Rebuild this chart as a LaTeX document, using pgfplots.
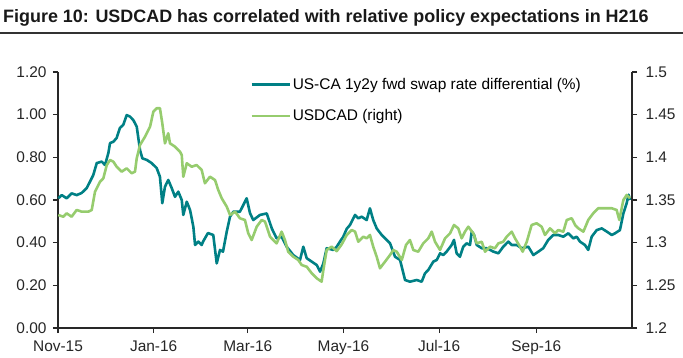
\documentclass[border=0pt]{standalone}
\usepackage{pgfplots}
\pgfplotsset{compat=1.18}
\usepackage{pgfplotstable}
\usepackage{fontspec}
\setmainfont{Liberation Sans}
\definecolor{tealc}{RGB}{0,128,133}
\definecolor{greenc}{RGB}{150,204,110}
\definecolor{axc}{RGB}{40,40,40}

\pgfplotstableread{
d v
0.2 0.608
2.4 0.623
5.5 0.608
8.7 0.631
11.9 0.623
15.1 0.633
18.3 0.656
20.4 0.686
22.5 0.717
24.7 0.773
27.9 0.780
30.0 0.764
32.1 0.820
33.2 0.867
35.3 0.873
37.4 0.891
39.5 0.938
41.6 0.952
43.8 0.998
45.9 0.991
48.0 0.975
50.2 0.944
52.3 0.834
53.8 0.795
56.6 0.788
59.7 0.773
62.9 0.750
65.0 0.709
66.5 0.585
68.2 0.662
70.3 0.694
72.5 0.656
74.6 0.615
76.7 0.639
78.9 0.600
79.9 0.530
82.1 0.592
84.2 0.553
86.3 0.475
87.4 0.389
89.5 0.405
91.6 0.389
92.5 0.405
95.6 0.445
99.0 0.436
101.2 0.303
103.3 0.366
105.2 0.358
107.6 0.452
109.7 0.522
111.8 0.545
116.0 0.545
120.3 0.608
122.4 0.539
124.5 0.506
128.8 0.530
133.1 0.537
136.3 0.467
139.4 0.420
142.6 0.428
145.8 0.381
150.0 0.342
154.3 0.319
156.4 0.381
158.6 0.327
161.8 0.311
165.0 0.295
167.1 0.264
169.2 0.303
171.3 0.374
175.5 0.366
177.7 0.381
179.8 0.405
181.9 0.428
184.1 0.465
186.2 0.483
189.4 0.530
191.5 0.514
193.6 0.522
196.8 0.506
198.9 0.561
201.0 0.506
203.2 0.467
206.4 0.436
209.6 0.413
211.7 0.397
214.9 0.334
218.1 0.319
221.3 0.225
224.4 0.217
228.7 0.225
231.9 0.217
234.0 0.256
236.1 0.272
239.3 0.311
241.5 0.319
243.6 0.350
245.7 0.342
247.8 0.358
251.0 0.389
252.5 0.413
254.2 0.350
256.3 0.334
258.4 0.381
260.6 0.397
262.7 0.389
263.8 0.452
265.3 0.436
267.0 0.389
270.2 0.374
273.4 0.374
275.5 0.366
277.6 0.358
280.8 0.350
283.9 0.381
287.1 0.405
289.3 0.389
292.5 0.389
295.7 0.374
299.9 0.381
303.1 0.342
306.3 0.358
309.4 0.374
312.6 0.413
315.8 0.436
319.0 0.436
322.2 0.428
325.4 0.444
328.6 0.420
330.7 0.428
332.8 0.405
336.0 0.389
338.1 0.366
340.3 0.428
343.5 0.459
346.7 0.467
349.9 0.452
353.1 0.436
355.2 0.444
358.3 0.459
360.5 0.537
362.6 0.585
363.8 0.625
364.7 0.600
}\spread

\pgfplotstableread{
d v
0.2 1.3324
3.4 1.3304
5.5 1.3344
8.7 1.3304
11.9 1.3383
15.1 1.3363
19.3 1.3363
21.5 1.3383
23.6 1.3597
26.8 1.3714
28.9 1.3754
31.1 1.3910
33.2 1.3969
35.3 1.3949
37.4 1.3890
40.6 1.3832
43.8 1.3871
47.0 1.3813
49.1 1.3832
50.2 1.3989
52.3 1.4145
55.5 1.4242
58.7 1.4359
60.8 1.4535
62.9 1.4575
65.0 1.4575
66.5 1.4399
68.2 1.4164
70.3 1.4282
71.4 1.4164
74.6 1.4125
77.8 1.4066
78.9 1.4027
79.9 1.3773
82.1 1.3930
85.3 1.3890
88.4 1.3910
91.6 1.3852
93.7 1.3696
96.9 1.3773
100.1 1.3734
102.2 1.3617
104.4 1.3520
107.6 1.3422
109.7 1.3324
112.9 1.3363
116.0 1.3286
119.2 1.3266
121.3 1.3110
123.5 1.3031
126.7 1.3187
129.9 1.3266
132.0 1.3246
135.2 1.3070
139.4 1.2992
142.6 1.3129
144.7 1.3031
146.8 1.2894
150.0 1.2836
153.2 1.2797
155.4 1.2738
158.6 1.2718
161.8 1.2641
165.0 1.2582
168.1 1.2543
169.2 1.2680
171.3 1.2914
174.5 1.2953
177.7 1.2900
180.9 1.2980
184.1 1.3090
187.3 1.3148
189.4 1.3129
191.5 1.3011
194.7 1.3070
196.8 1.3051
198.9 1.3090
201.0 1.2953
203.2 1.2836
205.3 1.2700
208.5 1.2777
211.7 1.2855
213.8 1.2914
216.0 1.2894
219.2 1.2797
221.9 1.2973
224.4 1.3031
226.6 1.2914
229.7 1.2894
232.9 1.2992
236.1 1.3051
238.3 1.3129
240.4 1.3011
243.6 1.2914
246.8 1.3051
250.0 1.3110
252.5 1.3207
255.2 1.3168
257.4 1.3051
259.5 1.3129
261.6 1.3187
264.8 1.3110
267.0 1.2992
270.2 1.3011
272.3 1.2894
275.5 1.2953
278.6 1.2934
280.8 1.2992
283.9 1.3011
286.1 1.3070
289.3 1.3129
291.4 1.3051
294.6 1.2953
296.3 1.2894
298.9 1.3011
302.0 1.3207
305.2 1.3227
308.4 1.3187
310.5 1.3090
313.7 1.3168
316.9 1.3110
319.0 1.3148
322.2 1.3129
324.4 1.3266
327.6 1.3286
329.7 1.3207
331.8 1.3168
335.0 1.3129
338.1 1.3266
341.3 1.3344
344.5 1.3403
348.8 1.3403
353.1 1.3403
356.2 1.3383
357.9 1.3266
360.5 1.3500
362.6 1.3559
364.7 1.3520
}\usdcad

\pgfplotsset{
  common/.style={
    scale only axis,
    width=574bp, height=256bp,
    at={(58bp,30bp)}, anchor=south west,
    xmin=0, xmax=366,
    tick align=outside,
    major tick length=5bp,
    every tick/.style={axc, line width=1.2bp},
    axis line style={axc, line width=1.5bp},
    tick label style={font=\fontsize{15.5}{18}\selectfont, text=black!85},
    xticklabel style={yshift=-4bp},
    /pgf/number format/assume math mode=true,
    clip=false,
  },
}

\begin{document}
\begin{tikzpicture}
\path[use as bounding box] (0,0) rectangle (683bp,358bp);
\node[anchor=base west, inner sep=0pt, font=\fontsize{18}{21}\selectfont\bfseries, text=black!90] at (3bp,335bp)
  {Figure 10: USDCAD has correlated with relative policy expectations in H216};
\draw[line width=1.2bp, black!80] (0,325bp) -- (683bp,325bp);

\begin{axis}[common,
  axis x line*=bottom, axis y line*=left,
  ymin=0, ymax=1.2,
  ytick={0,0.2,0.4,0.6,0.8,1.0,1.2},
  yticklabel style={xshift=-3bp, /pgf/number format/.cd, fixed, fixed zerofill, precision=2},
  xtick={0,61,121,182,243,305},
  xticklabels={Nov-15,Jan-16,Mar-16,May-16,Jul-16,Sep-16},
  legend style={at={(rel axis cs:0.3345,0.985)}, anchor=north west, draw=none, fill=none,
    font=\fontsize{15.5}{18}\selectfont, row sep=15bp, inner sep=0pt,
    /tikz/every even column/.style={column sep=1bp}},
  legend cell align=left,
  legend image code/.code={\draw[#1] (0bp,0bp) -- (38bp,0bp);},
]
\addplot[tealc, line width=2.6bp, line join=round] table[x=d, y=v] {\spread};
\addlegendentry{US-CA 1y2y fwd swap rate differential (\%)}
\addlegendimage{greenc, line width=2.6bp}
\addlegendentry{USDCAD (right)}
\end{axis}

\begin{axis}[common,
  axis x line=none, axis y line*=right,
  ymin=1.2, ymax=1.5,
  ytick={1.2,1.25,1.3,1.35,1.4,1.45,1.5},
  yticklabel style={xshift=5bp, /pgf/number format/.cd, fixed, precision=2},
]
\addplot[greenc, line width=2.6bp, line join=round] table[x=d, y=v] {\usdcad};
\end{axis}
\end{tikzpicture}
\end{document}
